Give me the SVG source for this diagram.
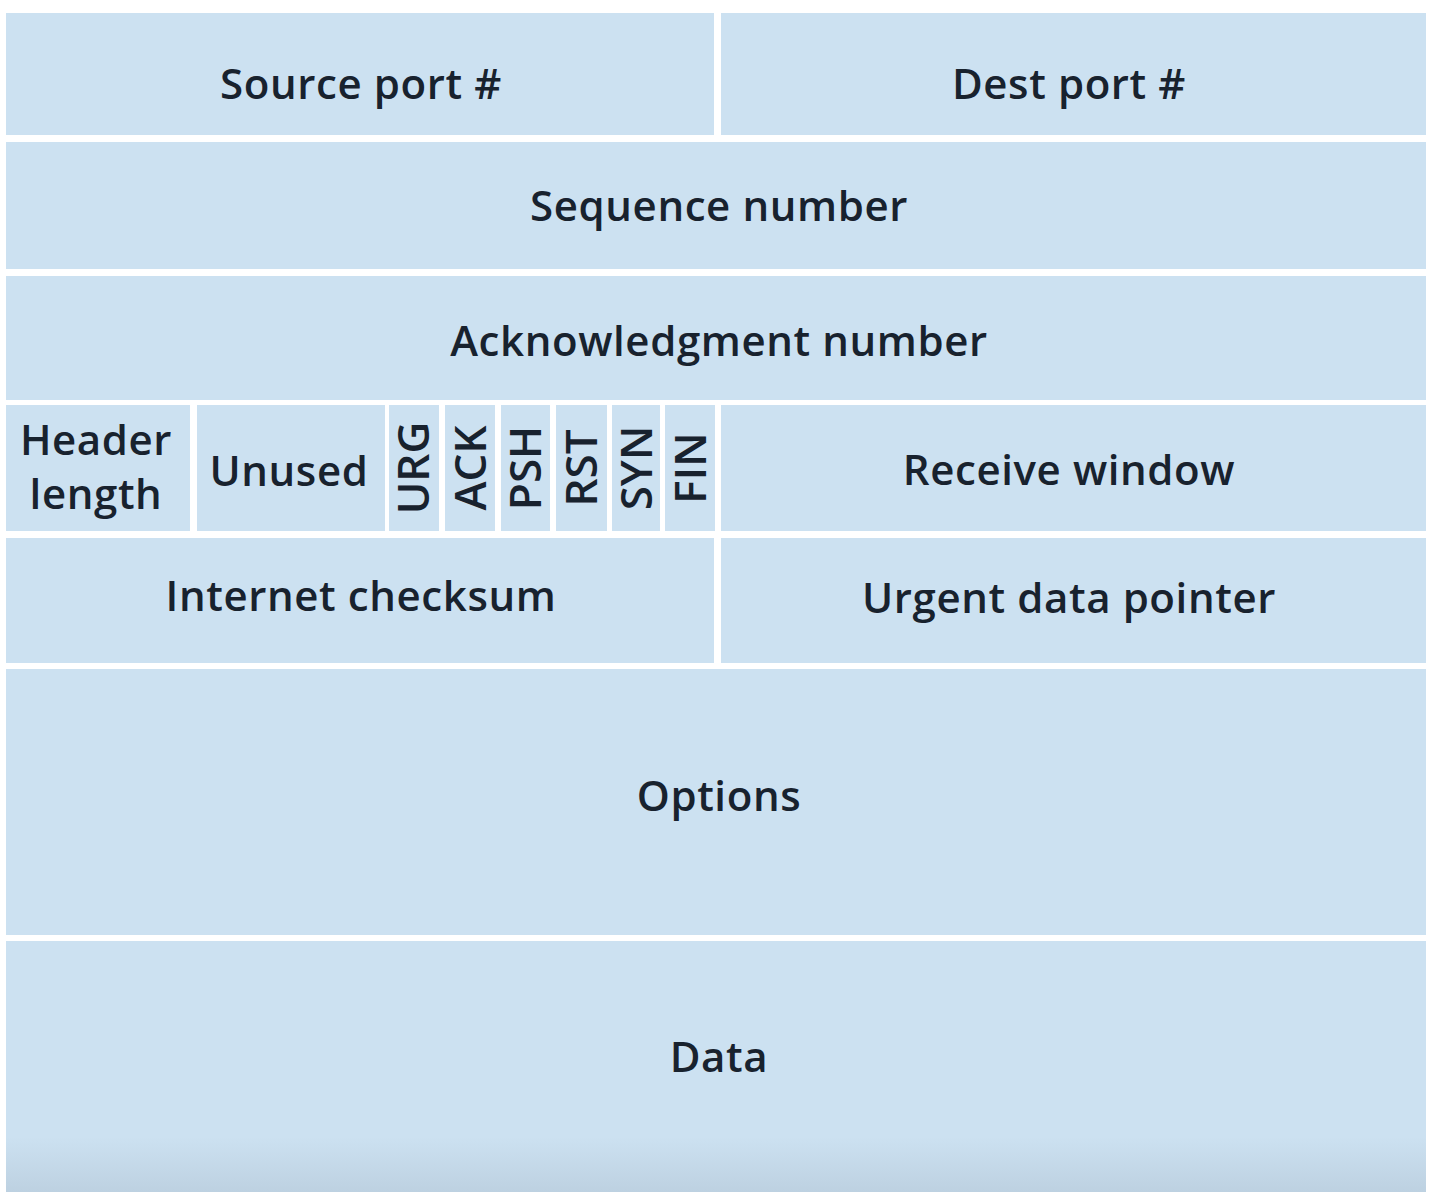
<svg xmlns="http://www.w3.org/2000/svg" width="1440" height="1200" viewBox="0 0 1440 1200">
<defs>
<linearGradient id="shade" x1="0" y1="0" x2="0" y2="1">
<stop offset="0" stop-color="#cce1f1"/>
<stop offset="0.78" stop-color="#cce1f1"/>
<stop offset="1" stop-color="#bdd1e1"/>
</linearGradient>
</defs>
<style>
.c{fill:#cce1f1}
.t{font-family:"Open Sans","Noto Sans",sans-serif;font-size:42px;font-weight:600;fill:#18222e;text-anchor:middle;letter-spacing:0.6px}
.f{font-size:44px;letter-spacing:0}
</style>
<rect width="1440" height="1200" fill="#ffffff"/>
<g id="source-port"><rect class="c" x="6" y="13" width="708" height="122"/><text class="t" x="361" y="99">Source port #</text></g>
<g id="dest-port"><rect class="c" x="721" y="13" width="705" height="122"/><text class="t" x="1069" y="99">Dest port #</text></g>
<g id="sequence-number"><rect class="c" x="6" y="142" width="1420" height="127"/><text class="t" x="719" y="221">Sequence number</text></g>
<g id="ack-number"><rect class="c" x="6" y="276" width="1420" height="124"/><text class="t" x="719" y="356">Acknowledgment number</text></g>
<g id="header-length"><rect class="c" x="6" y="405" width="184" height="126"/><text class="t" x="96" y="455">Header</text><text class="t" x="96" y="509">length</text></g>
<g id="unused"><rect class="c" x="197" y="405" width="188" height="126"/><text class="t" x="289" y="486">Unused</text></g>
<g id="urg"><rect class="c" x="389" y="405" width="50" height="126"/><text class="t f" transform="translate(429 468) rotate(-90)">URG</text></g>
<g id="ack"><rect class="c" x="445" y="405" width="50" height="126"/><text class="t f" transform="translate(486 468) rotate(-90)">ACK</text></g>
<g id="psh"><rect class="c" x="501" y="405" width="49" height="126"/><text class="t f" transform="translate(541 468) rotate(-90)">PSH</text></g>
<g id="rst"><rect class="c" x="556" y="405" width="51" height="126"/><text class="t f" transform="translate(597 468) rotate(-90)">RST</text></g>
<g id="syn"><rect class="c" x="612" y="405" width="48" height="126"/><text class="t f" transform="translate(652 468) rotate(-90)">SYN</text></g>
<g id="fin"><rect class="c" x="665" y="405" width="50" height="126"/><text class="t f" transform="translate(706 468) rotate(-90)">FIN</text></g>
<g id="receive-window"><rect class="c" x="721" y="405" width="705" height="126"/><text class="t" x="1069" y="485">Receive window</text></g>
<g id="checksum"><rect class="c" x="6" y="538" width="708" height="125"/><text class="t" x="361" y="611">Internet checksum</text></g>
<g id="urgent-pointer"><rect class="c" x="721" y="538" width="705" height="125"/><text class="t" x="1069" y="613">Urgent data pointer</text></g>
<g id="options"><rect class="c" x="6" y="669" width="1420" height="266"/><text class="t" x="719" y="811">Options</text></g>
<g id="data"><rect x="6" y="941" width="1420" height="251" fill="url(#shade)"/><text class="t" x="719" y="1072">Data</text></g>
<g id="connectors"></g>
</svg>
